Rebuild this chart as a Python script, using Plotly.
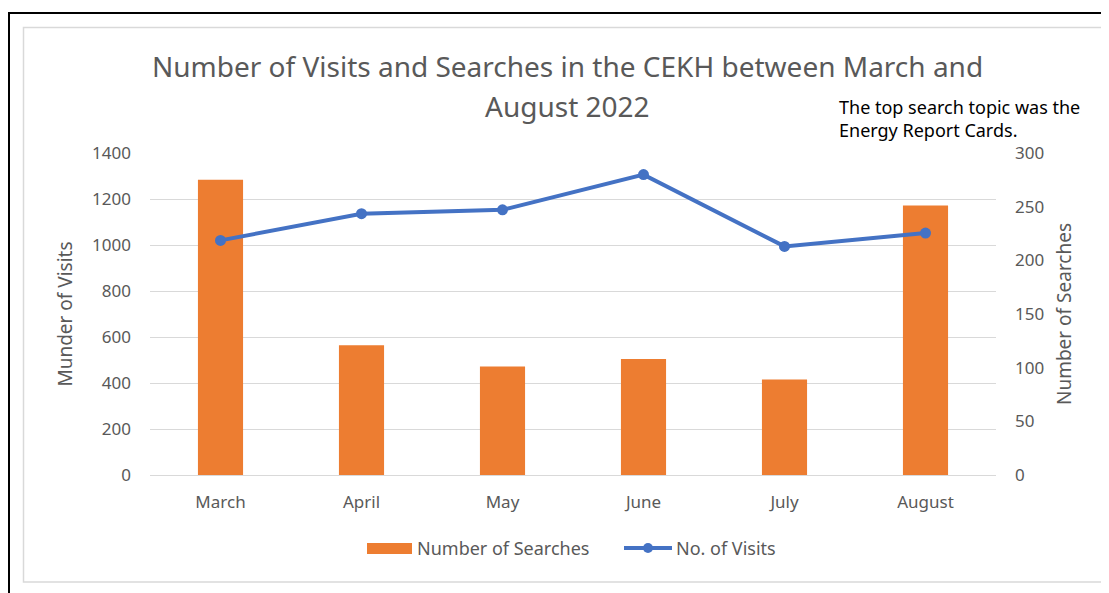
import plotly.graph_objects as go

months = ['March', 'April', 'May', 'June', 'July', 'August']
searches = [275, 121, 101, 108, 89, 251]
visits = [1020, 1136, 1153, 1306, 994, 1052]

# page body has an 8px margin, so the figure starts at (8, 8) in the window
OFF = 8
W, H = 1109 - OFF, 593 - OFF
L, R, T, B = 150, 996, 153, 475   # plot area in window pixels


def px(x):
    return (x - L) / (R - L)


def py(y):
    return (B - y) / (B - T)


font = 'Noto Sans'
grey = '#595959'
orange = '#ED7D31'
blue = '#4472C4'

bars = go.Bar(x=months, y=searches, name='Number of Searches', yaxis='y',
              marker=dict(color=orange, line=dict(width=0)), width=0.32)
line = go.Scatter(x=months, y=visits, name='No. of Visits', mode='lines+markers',
                  yaxis='y2', line=dict(color=blue, width=4),
                  marker=dict(color=blue, size=11))

fig = go.Figure(data=[bars, line])

fig.update_layout(
    width=W, height=H,
    margin=dict(l=L - OFF, r=1109 - R, t=T - OFF, b=593 - B, autoexpand=False),
    paper_bgcolor='white', plot_bgcolor='white',
    font=dict(family=font, color=grey, size=16),
    showlegend=False,
    xaxis=dict(showgrid=False, showline=True, linecolor='#D9D9D9', linewidth=1,
               ticks='', ticklabelstandoff=12, tickfont=dict(size=17, color=grey)),
    yaxis=dict(range=[0, 300], dtick=50, side='right',
               showgrid=False, zeroline=False, showline=False, ticks='',
               ticklabelstandoff=18, tickfont=dict(size=17, color=grey),
               title=dict(text='Number of Searches', font=dict(size=19, color=grey),
                          standoff=14)),
    yaxis2=dict(range=[0, 1400], dtick=200, overlaying='y', side='left',
                showgrid=True, gridcolor='#D9D9D9', gridwidth=1, zeroline=False,
                showline=False, ticks='', ticklabelstandoff=18,
                tickfont=dict(size=17, color=grey),
                title=dict(text='Munder of Visits', font=dict(size=19, color=grey),
                           standoff=14)),
)

fig.add_annotation(text='Number of Visits and Searches in the CEKH between March and',
                   xref='paper', yref='paper', x=px(567), y=py(66), xanchor='center',
                   yanchor='middle', showarrow=False,
                   font=dict(family=font, size=28, color=grey))
fig.add_annotation(text='August 2022',
                   xref='paper', yref='paper', x=px(567), y=py(106), xanchor='center',
                   yanchor='middle', showarrow=False,
                   font=dict(family=font, size=28, color=grey))
fig.add_annotation(text='The top search topic was the<br>Energy Report Cards.',
                   xref='paper', yref='paper', x=px(837), y=py(119), xanchor='left',
                   yanchor='middle', align='left', showarrow=False,
                   font=dict(family=font, size=18, color='black'))

# legend drawn by hand so the bar key is a wide Excel-style swatch
fig.add_shape(type='rect', xref='paper', yref='paper', x0=px(367), x1=px(412),
              y0=py(554), y1=py(543), fillcolor=orange, line=dict(width=0))
fig.add_annotation(text='Number of Searches', xref='paper', yref='paper',
                   x=px(415), y=py(548), xanchor='left', yanchor='middle',
                   showarrow=False, font=dict(family=font, size=18, color=grey))
fig.add_shape(type='line', xref='paper', yref='paper', x0=px(624), x1=px(672),
              y0=py(548), y1=py(548), line=dict(color=blue, width=4))
fig.add_shape(type='circle', xref='paper', yref='paper', x0=px(643), x1=px(653),
              y0=py(553), y1=py(543), fillcolor=blue, line=dict(width=0))
fig.add_annotation(text='No. of Visits', xref='paper', yref='paper',
                   x=px(674), y=py(548), xanchor='left', yanchor='middle',
                   showarrow=False, font=dict(family=font, size=18, color=grey))

# outer black frame and inner chart-area frame
fig.add_shape(type='rect', xref='paper', yref='paper', x0=px(9), x1=px(1120),
              y0=py(610), y1=py(13), line=dict(color='black', width=2))
fig.add_shape(type='rect', xref='paper', yref='paper', x0=px(23.5), x1=px(1120),
              y0=py(582), y1=py(27.5), line=dict(color='#D9D9D9', width=1.5))

fig.write_html('out.html')
